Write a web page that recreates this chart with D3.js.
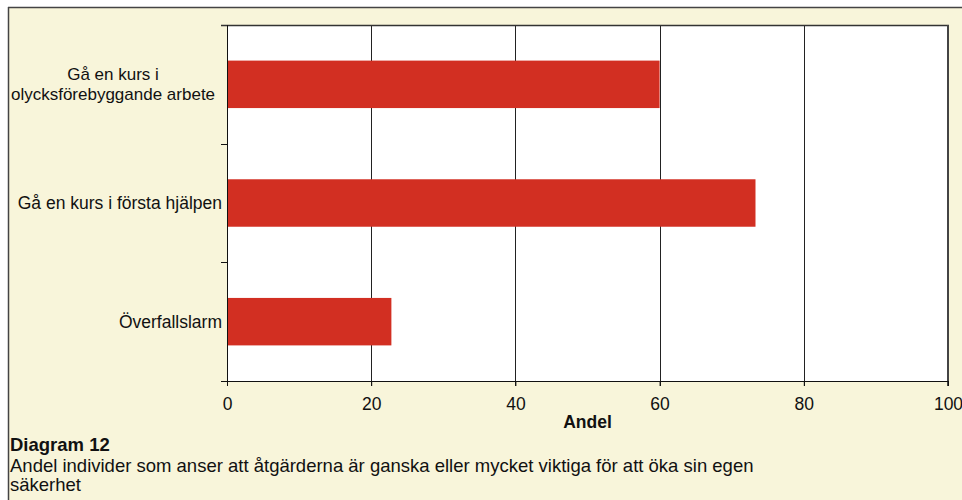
<!DOCTYPE html>
<html>
<head>
<meta charset="utf-8">
<script src="https://cdn.jsdelivr.net/npm/d3@7"></script>
<style>
  body { margin: 0; background: #fff; }
  svg { display: block; font-family: "Liberation Sans", Arial, sans-serif; }
</style>
</head>
<body>
<div id="container"></div>
<script>
// data
const categories = [
  ["Gå en kurs i", "olycksförebyggande arbete"],
  ["Gå en kurs i första hjälpen"],
  ["Överfallslarm"]
];
const values = [60, 73.3, 22.8];
const xTicks = [0, 20, 40, 60, 80, 100];

const W = 962, H = 500;
const m = { left: 227, top: 25, right: 948, bottom: 381 };
const fsAxis = 17.5, fsCaption = 18.5;

const svg = d3.select("#container").append("svg")
  .attr("width", W).attr("height", H);

// fond crème + cadre
svg.append("rect").attr("x", 8).attr("y", 7).attr("width", W - 8).attr("height", H - 7)
  .attr("fill", "#F8F5DA");
svg.append("line").attr("x1", 8).attr("x2", W).attr("y1", 7.5).attr("y2", 7.5)
  .attr("stroke", "#444").attr("stroke-width", 1.5);
svg.append("line").attr("x1", 8.5).attr("x2", 8.5).attr("y1", 7).attr("y2", H)
  .attr("stroke", "#444").attr("stroke-width", 1.5);

const x = d3.scaleLinear().domain([0, 100]).range([m.left, m.right]);
const y = d3.scaleBand().domain(d3.range(categories.length))
  .range([m.top, m.bottom]).paddingInner(0.6).paddingOuter(0.3);
const yAll = d3.scaleBand().domain(d3.range(categories.length)).range([m.top, m.bottom]);

// zone du graphe
svg.append("rect").attr("x", m.left).attr("y", m.top)
  .attr("width", m.right - m.left).attr("height", m.bottom - m.top).attr("fill", "#fff");

// grille
svg.selectAll(".grid").data(xTicks.slice(1, -1)).enter().append("line")
  .attr("x1", d => Math.round(x(d)) + 0.5).attr("x2", d => Math.round(x(d)) + 0.5)
  .attr("y1", m.top).attr("y2", m.bottom + 5)
  .attr("stroke", "#222").attr("stroke-width", 1);

// barres
svg.selectAll(".bar").data(values).enter().append("rect")
  .attr("x", x(0)).attr("y", (d, i) => y(i))
  .attr("width", d => x(d) - x(0)).attr("height", y.bandwidth())
  .attr("fill", "#D22F22");

// bords du graphe
svg.append("line").attr("x1", m.left - 6).attr("x2", m.right + 1).attr("y1", m.top + 0.5).attr("y2", m.top + 0.5)
  .attr("stroke", "#333").attr("stroke-width", 1.5);
svg.append("line").attr("x1", m.right).attr("x2", m.right).attr("y1", m.top).attr("y2", m.bottom + 5)
  .attr("stroke", "#444").attr("stroke-width", 2);

// axe x
const xAxis = svg.append("g").attr("transform", `translate(0,${m.bottom})`)
  .call(d3.axisBottom(x).tickValues(xTicks).tickSize(5).tickPadding(12));
xAxis.select(".domain").attr("stroke", "#111").attr("d", `M${m.left - 6},0.5H${m.right}`);
xAxis.selectAll("line").attr("stroke", "#111");
xAxis.selectAll("text").attr("font-size", fsAxis).attr("fill", "#111")
  .attr("font-family", "Liberation Sans, Arial, sans-serif");

// axe y
svg.append("line").attr("x1", m.left + 0.5).attr("x2", m.left + 0.5).attr("y1", m.top).attr("y2", m.bottom + 5)
  .attr("stroke", "#111");
svg.selectAll(".ytick").data(d3.range(1, categories.length)).enter().append("line")
  .attr("x1", m.left - 6).attr("x2", m.left)
  .attr("y1", d => Math.round(yAll(d)) + 0.5).attr("y2", d => Math.round(yAll(d)) + 0.5)
  .attr("stroke", "#111");

// libellés des catégories
categories.forEach((lines, i) => {
  const cy = yAll(i) + yAll.bandwidth() / 2;
  const multi = lines.length > 1;
  const t = svg.append("text")
    .attr("font-size", multi ? 17 : fsAxis).attr("fill", "#111")
    .attr("text-anchor", multi ? "middle" : "end");
  lines.forEach((l, k) => {
    t.append("tspan")
      .attr("x", multi ? 113 : 222)
      .attr("y", cy + 6 + (k - (lines.length - 1) / 2) * 20)
      .text(l);
  });
});

// titre de l'axe
svg.append("text").attr("x", (m.left + m.right) / 2).attr("y", 428)
  .attr("text-anchor", "middle").attr("font-size", fsAxis).attr("font-weight", "bold")
  .attr("fill", "#111").text("Andel");

// légende du diagramme
svg.append("text").attr("x", 10).attr("y", 451).attr("font-size", fsCaption)
  .attr("font-weight", "bold").attr("fill", "#111").text("Diagram 12");
svg.append("text").attr("x", 10).attr("y", 471.5).attr("font-size", fsCaption).attr("fill", "#111")
  .text("Andel individer som anser att åtgärderna är ganska eller mycket viktiga för att öka sin egen");
svg.append("text").attr("x", 10).attr("y", 491).attr("font-size", fsCaption).attr("fill", "#111")
  .text("säkerhet");
</script>
</body>
</html>
